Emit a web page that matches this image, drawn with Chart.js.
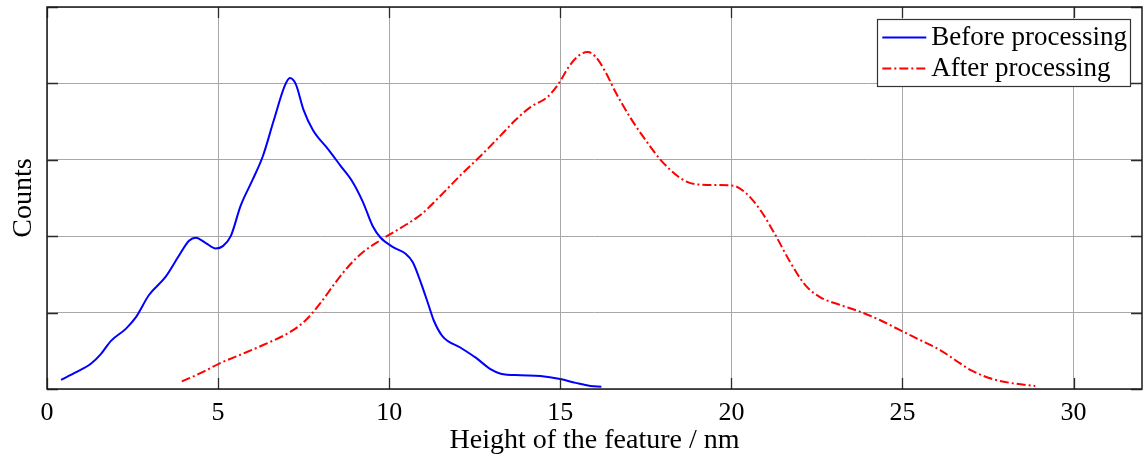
<!DOCTYPE html>
<html>
<head>
<meta charset="utf-8">
<script src="https://cdn.jsdelivr.net/npm/chart.js@4.4.1/dist/chart.umd.min.js"></script>
<style>
  html, body { margin: 0; padding: 0; background: #ffffff; }
  #wrap { width: 1143px; height: 459px; position: relative; }
</style>
</head>
<body>
<div id="wrap"><canvas id="c" width="1143" height="459"></canvas></div>
<script>
// Height distributions of the features (counts in arbitrary units)
const beforeX = [0.41, 0.85, 1.28, 1.58, 1.87, 2.31, 2.6, 2.98, 3.47, 3.85, 4.15, 4.35, 4.64, 4.93, 5.14, 5.37, 5.66, 6.01, 6.31, 6.63, 6.95, 7.1, 7.27, 7.5, 7.77, 8.23, 8.58, 8.93, 9.23, 9.52, 9.75, 10.1, 10.48, 10.69, 10.92, 11.15, 11.3, 11.56, 12.09, 12.53, 12.96, 13.26, 13.84, 14.42, 15.0, 15.45, 15.88, 16.2];
const beforeY = [0.12, 0.22, 0.33, 0.46, 0.63, 0.79, 0.94, 1.23, 1.47, 1.74, 1.94, 1.98, 1.91, 1.84, 1.87, 2.0, 2.40, 2.74, 3.05, 3.52, 3.97, 4.07, 3.99, 3.65, 3.39, 3.13, 2.92, 2.71, 2.45, 2.13, 1.98, 1.86, 1.77, 1.66, 1.40, 1.10, 0.90, 0.69, 0.54, 0.41, 0.26, 0.20, 0.18, 0.17, 0.13, 0.08, 0.04, 0.03];

const afterX = [3.94, 4.5, 5.02, 5.66, 6.39, 7.12, 7.56, 8.0, 8.44, 8.82, 9.23, 9.75, 10.34, 10.92, 11.5, 12.09, 12.67, 13.26, 13.69, 14.13, 14.62, 14.91, 15.3, 15.59, 15.8, 16.03, 16.32, 16.61, 17.05, 17.49, 17.93, 18.51, 18.95, 19.53, 20.06, 20.41, 20.85, 21.28, 21.72, 22.16, 22.6, 23.18, 23.77, 24.35, 24.93, 25.52, 26.1, 26.54, 26.98, 27.56, 28.15, 28.88];
const afterY = [0.10, 0.21, 0.33, 0.45, 0.59, 0.75, 0.90, 1.13, 1.40, 1.61, 1.79, 1.95, 2.11, 2.28, 2.53, 2.80, 3.05, 3.32, 3.52, 3.69, 3.82, 3.97, 4.25, 4.38, 4.41, 4.35, 4.15, 3.89, 3.55, 3.26, 3.00, 2.76, 2.68, 2.67, 2.66, 2.57, 2.34, 2.02, 1.66, 1.36, 1.20, 1.10, 1.01, 0.90, 0.77, 0.64, 0.51, 0.38, 0.25, 0.14, 0.08, 0.04];

const seriesNames = ['Before processing', 'After processing'];
const xTickValues = [0, 5, 10, 15, 20, 25, 30];
const yTickValues = [0, 1, 2, 3, 4, 5];
const xTitle = 'Height of the feature / nm';
const yTitle = 'Counts';

const SERIF = '"Liberation Serif", "DejaVu Serif", serif';
const toPoints = (xs, ys) => xs.map((x, i) => ({ x: x, y: ys[i] }));

// Frame with inward tick marks on all four sides
const framePlugin = {
  id: 'frameTicks',
  afterDatasetsDraw(chart) {
    const { ctx, chartArea: a, scales } = chart;
    const tl = 11;
    ctx.save();
    ctx.strokeStyle = '#2a2a2a';
    ctx.lineWidth = 1.3;
    ctx.beginPath();
    xTickValues.forEach(v => {
      const px = Math.round(scales.x.getPixelForValue(v)) + 0.5;
      ctx.moveTo(px, a.bottom); ctx.lineTo(px, a.bottom - tl);
      ctx.moveTo(px, a.top); ctx.lineTo(px, a.top + tl);
    });
    yTickValues.forEach(v => {
      const py = Math.round(scales.y.getPixelForValue(v)) + 0.5;
      ctx.moveTo(a.left, py); ctx.lineTo(a.left + tl, py);
      ctx.moveTo(a.right, py); ctx.lineTo(a.right - tl, py);
    });
    ctx.stroke();
    ctx.lineWidth = 1.5;
    ctx.strokeStyle = '#1a1a1a';
    ctx.strokeRect(a.left, a.top, a.right - a.left, a.bottom - a.top);
    ctx.restore();
  }
};

// Boxed legend in the upper right corner of the plot area
const legendPlugin = {
  id: 'boxedLegend',
  afterDraw(chart) {
    const { ctx, chartArea: a } = chart;
    const ds = chart.data.datasets;
    ctx.save();
    ctx.font = '27px ' + SERIF;
    const textW = Math.max(...ds.map(d => ctx.measureText(d.label).width));
    const sampleW = 44, gap = 5, padL = 5, padR = 3, rowH = 31, padT = 2;
    const w = padL + sampleW + gap + textW + padR;
    const h = padT * 2 + rowH * ds.length + 1;
    const right = a.right - 12, top = a.top + 12;
    const left = right - w;
    ctx.fillStyle = '#ffffff';
    ctx.fillRect(left, top, w, h);
    ctx.strokeStyle = '#333333';
    ctx.lineWidth = 1.2;
    ctx.strokeRect(Math.round(left) + 0.5, top + 0.5, Math.round(w), h);
    ds.forEach((d, i) => {
      const cy = top + padT + rowH * i + rowH / 2 + 1;
      ctx.strokeStyle = d.borderColor;
      ctx.lineWidth = d.borderWidth;
      ctx.setLineDash(d.borderDash || []);
      ctx.beginPath();
      ctx.moveTo(left + padL, cy);
      ctx.lineTo(left + padL + sampleW, cy);
      ctx.stroke();
      ctx.setLineDash([]);
      ctx.fillStyle = '#000000';
      ctx.textBaseline = 'alphabetic';
      ctx.fillText(d.label, left + padL + sampleW + gap, cy + 7.5);
    });
    ctx.restore();
  }
};

new Chart(document.getElementById('c'), {
  type: 'line',
  data: {
    datasets: [
      {
        label: seriesNames[0],
        data: toPoints(beforeX, beforeY),
        borderColor: '#0000ff',
        borderWidth: 2,
        pointRadius: 0,
        cubicInterpolationMode: 'monotone',
        fill: false
      },
      {
        label: seriesNames[1],
        data: toPoints(afterX, afterY),
        borderColor: '#ff0000',
        borderWidth: 2,
        borderDash: [9, 3, 2, 3],
        pointRadius: 0,
        cubicInterpolationMode: 'monotone',
        fill: false
      }
    ]
  },
  options: {
    responsive: false,
    animation: false,
    layout: { padding: { top: 7, right: 1, left: 0, bottom: 0 } },
    plugins: { legend: { display: false }, tooltip: { enabled: false } },
    scales: {
      x: {
        type: 'linear',
        min: 0, max: 32,
        afterBuildTicks: s => { s.ticks = xTickValues.map(v => ({ value: v })); },
        afterFit: s => { s.height = 70; },
        ticks: { color: '#000', font: { family: SERIF, size: 26 }, padding: 9, maxRotation: 0 },
        grid: { color: '#a8a8a8', lineWidth: 1, drawTicks: false },
        border: { display: false },
        title: { display: true, text: xTitle, color: '#000', font: { family: SERIF, size: 28 }, padding: { top: 0, bottom: 2 } }
      },
      y: {
        type: 'linear',
        min: 0, max: 5,
        afterBuildTicks: s => { s.ticks = yTickValues.map(v => ({ value: v })); },
        afterFit: s => { s.width = 47; },
        ticks: { display: false },
        grid: { color: '#a8a8a8', lineWidth: 1, drawTicks: false },
        border: { display: false },
        title: { display: true, text: yTitle, color: '#000', font: { family: SERIF, size: 28 }, padding: { top: 7, bottom: 0 } }
      }
    }
  },
  plugins: [framePlugin, legendPlugin]
});
</script>
</body>
</html>
